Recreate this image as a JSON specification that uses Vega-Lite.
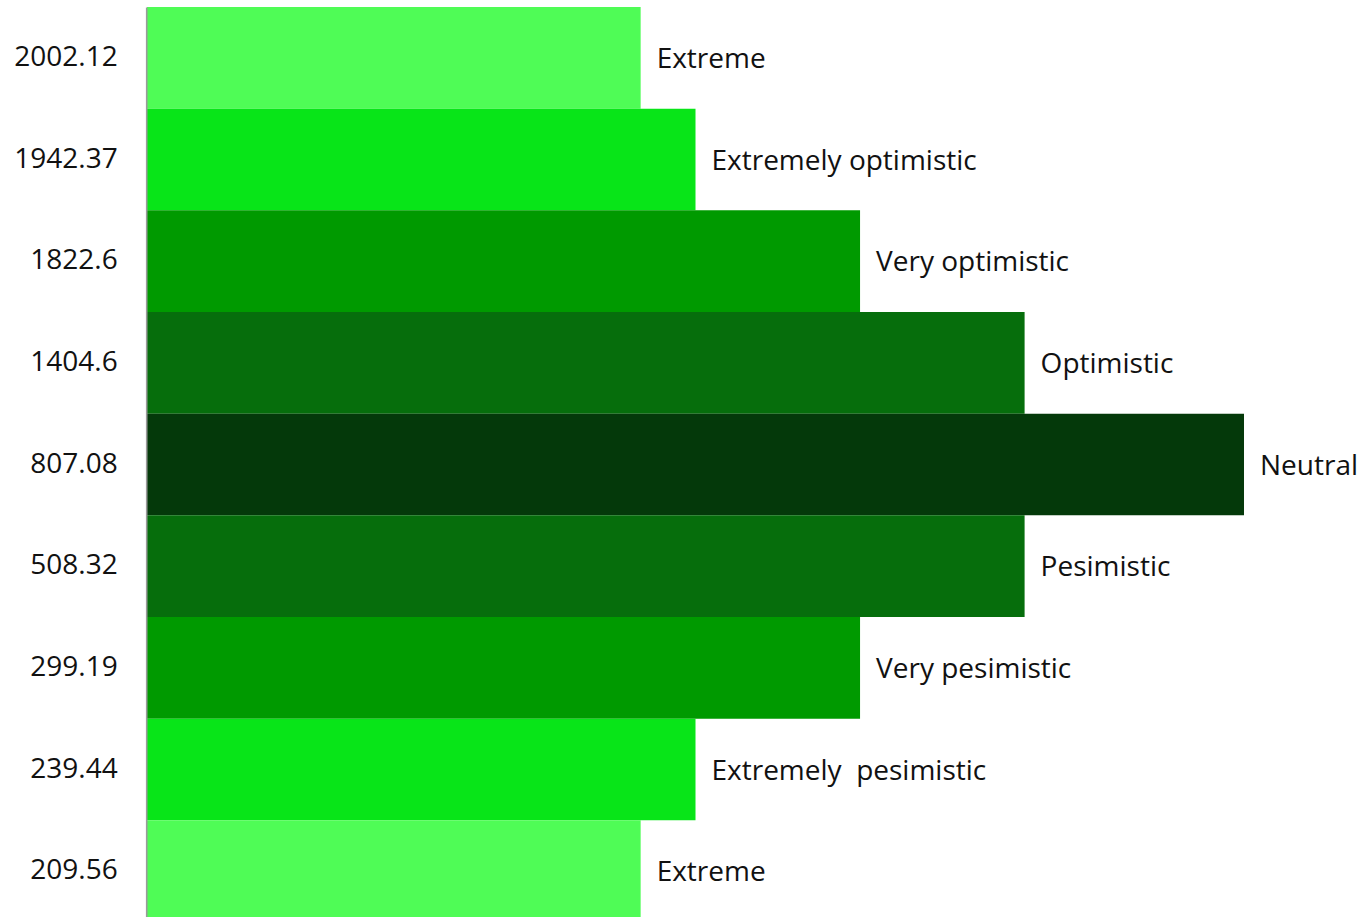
{
  "$schema": "https://vega.github.io/schema/vega-lite/v6.json",
  "autosize": "none",
  "width": 1097,
  "height": 915,
  "padding": {"left": 147, "top": 7, "right": 116, "bottom": 0},
  "background": "white",
  "config": {"view": {"stroke": null}, "font": "Open Sans"},
  "data": {
    "values": [
      {"index": "2002.12", "sentiment": "Extreme", "tier": "t1", "score": 45},
      {"index": "1942.37", "sentiment": "Extremely optimistic", "tier": "t2", "score": 50},
      {"index": "1822.6", "sentiment": "Very optimistic", "tier": "t3", "score": 65},
      {"index": "1404.6", "sentiment": "Optimistic", "tier": "t4", "score": 80},
      {"index": "807.08", "sentiment": "Neutral", "tier": "t5", "score": 100},
      {"index": "508.32", "sentiment": "Pesimistic", "tier": "t4", "score": 80},
      {"index": "299.19", "sentiment": "Very pesimistic", "tier": "t3", "score": 65},
      {"index": "239.44", "sentiment": "Extremely\u00a0 pesimistic", "tier": "t2", "score": 50},
      {"index": "209.56", "sentiment": "Extreme", "tier": "t1", "score": 45}
    ]
  },
  "encoding": {
    "y": {
      "field": "index",
      "type": "nominal",
      "sort": null,
      "scale": {"paddingInner": 0, "paddingOuter": 0},
      "axis": {
        "title": null,
        "ticks": false,
        "domain": true,
        "domainColor": "#9a9a9a",
        "domainWidth": 1.6,
        "offset": 0.8,
        "zindex": 1,
        "labelFont": "Open Sans",
        "labelFontSize": 28,
        "labelColor": "#111111",
        "labelPadding": 29
      }
    },
    "x": {
      "field": "score",
      "type": "quantitative",
      "scale": {"domain": [0, 100], "nice": false},
      "axis": null
    }
  },
  "layer": [
    {
      "mark": {"type": "bar"},
      "encoding": {
        "color": {
          "field": "tier",
          "type": "nominal",
          "scale": {
            "domain": ["t1", "t2", "t3", "t4", "t5"],
            "range": ["#4ffc56", "#08e518", "#009a00", "#066e0c", "#04390a"]
          },
          "legend": null
        }
      }
    },
    {
      "mark": {
        "type": "text",
        "align": "left",
        "baseline": "middle",
        "dx": 16,
        "dy": 2,
        "font": "Open Sans",
        "fontSize": 28,
        "color": "#111111"
      },
      "encoding": {"text": {"field": "sentiment"}}
    }
  ]
}
